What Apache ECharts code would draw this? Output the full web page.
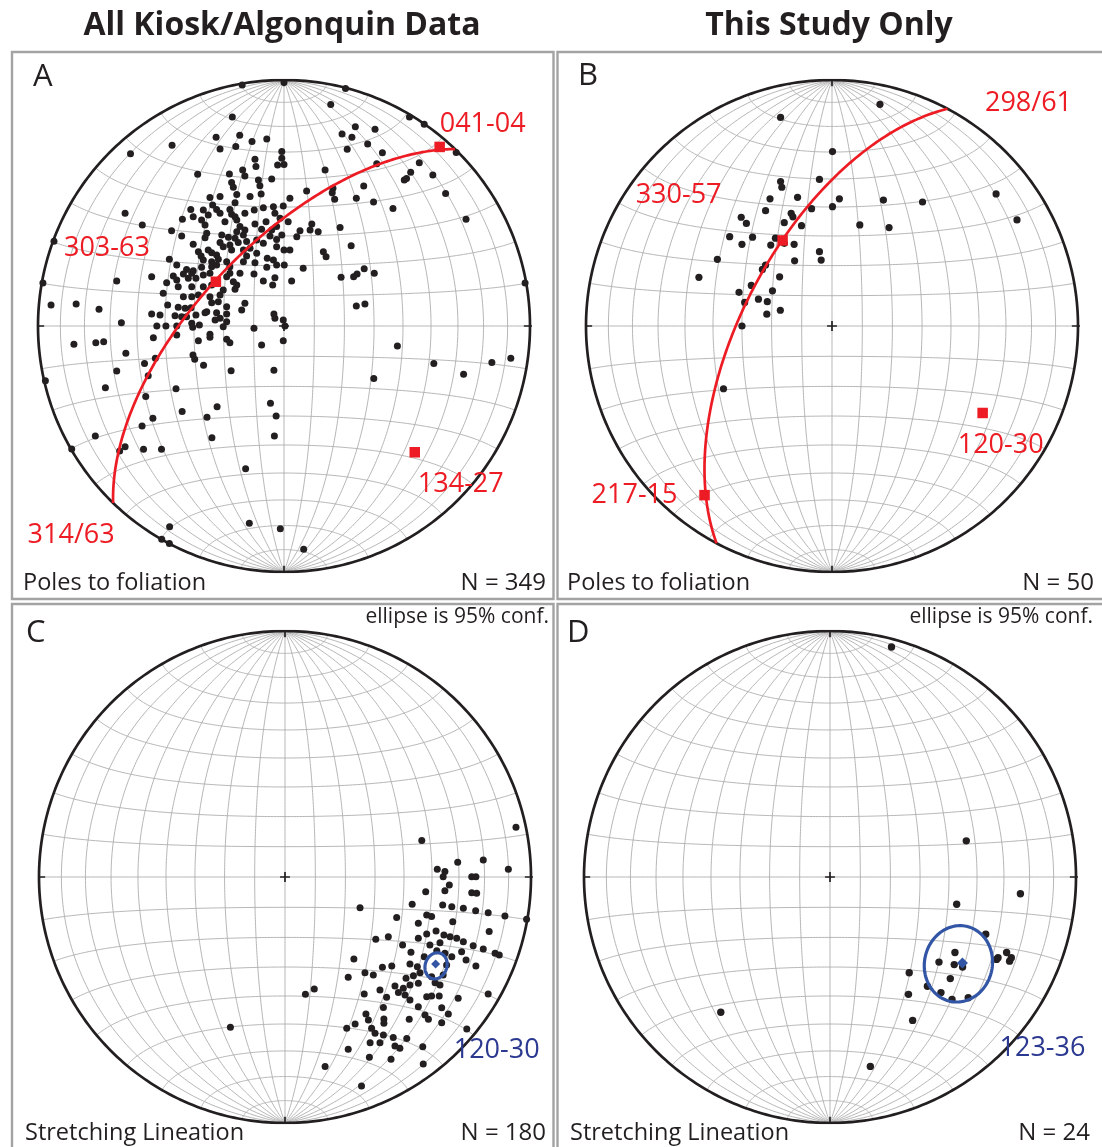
<!DOCTYPE html>
<html><head><meta charset="utf-8">
<script src="https://cdn.jsdelivr.net/npm/echarts@6/dist/echarts.min.js"></script>
<style>html,body{margin:0;padding:0;background:#fff}#c{width:1102px;height:1147px}</style>
</head><body><div id="c"></div>
<script>
// ---------- DATA (net coordinates: primitive radius = 100, x = east, y = north) ----------
const polesA = [
[-17,98],[0,99],[25,96.5],[51,85],[57,82],[70,70.5],[-93.5,34.5],[-98,17.5],[98,17.5],[19,90],[-21,85],[29,81],[37,80],[-27.6,76.7],[-18,77.5],[-13,75],[-7,76],[23.6,78],[27.6,76.7],[-45.5,73.5],[-26,72],[-19.6,73],[25.7,71.8],[34,74],[40,70.4],[-62.4,70],[37.7,66],[55,66.4],[51.5,62.5],[49.8,60],[48.9,59.3],[60.5,61.4],[19.9,56],[19.6,54.2],[32.4,56.9],[65.7,53.9],[20.6,51.5],[29.4,51.9],[36.4,50.4],[44.3,47.8],[74,43.4],[22.8,40],[27.3,32.6],[23.2,19.8],[28.3,20],[29.7,21.1],[32.6,23.3],[36.7,21.4],[29.4,8.1],[32.9,8.9],[-64.6,45.8],[-68,18.3],[-94.7,8.5],[-84.5,8.9],[-75.2,6.8],[-66.1,1.3],
[-0.9,70.9],[-11.8,67.8],[-0.9,68.2],[-11.4,64.8],[-2.6,65.4],[0,65.7],[-22.2,61.8],[-16.8,63.4],[16.7,63.4],[-35.1,61.7],[-15.9,61],[-10.4,59.3],[-5,59.8],[-21.3,58.3],[-9.8,57],[-20.6,56.4],[9.2,54.9],[2.4,51.9],[-19.2,53.5],[-9.3,53.7],[-13.8,52.6],[-30.1,52.2],[-26,52.6],[-19.9,50.1],[-29,49.2],[-27.4,47.4],[-22,47.4],[-12.1,47.2],[-8.4,48.1],[-4.3,48.5],[-0.3,48.8],[-37.9,47.4],[-32.8,47.2],[-26,45.8],[-21.3,45.4],[-19.9,44.4],[-15.9,45.8],[-3.7,45.8],[-36.9,44.4],[-30.8,45.1],[-33.5,43.1],[-41.3,43.4],[-24,42.4],[-19.2,43.1],[-11.8,41.5],[-7.3,42.4],[-1.6,43.8],[1.7,42.4],[11.3,41.5],[-57.6,41.1],[-45.7,38.7],[-32.1,41.1],[-17.9,40.4],[-19.2,38.3],[-15.9,39],[-9.1,39.3],[-5,39],[-3,40.4],[6.5,38.7],[10.6,39],[13.9,38.3],[-41.6,36.6],[-31.4,37.7],[-25.3,37],[-22.6,36.1],[-19.9,35.7],[-16.5,37],[-5.7,36.6],[-0.9,37],[5.2,36.3],[-32.1,35.9],[-36.9,33.2],[-26,33.9],[-22,32.9],[-18.6,33.9],[-15.2,34.3],[-11.1,35],[-3,35.2],[-8.4,33.6],[-34.8,30.2],[-30.8,30.9],[-24.7,32.2],[-21.3,30.9],[-16.5,30.9],[-13.8,31.6],[-3,32.2],[0,30.9],[2.4,30.9],[16,30.2],[17.1,28.2],[-33.7,28.5],[-29.4,29.8],[-27.4,28.9],[-15.2,28.5],[-11.1,29.6],[-6.8,27.5],[-4.3,26.8],[-46.6,27.1],[-43.6,24.8],[-32.8,26.8],[-29.4,26.1],[-26.7,27.1],[-23.3,26.1],[-16.5,26.1],[-11.8,25.7],[7.8,23.5],[0.1,24.8],[-39.6,23],[-36.9,22.5],[-33.5,23.9],[-29.4,24.1],[-27.4,24.8],[-22,24.1],[-7,23.9],[-3,24.8],[-45,20.3],[-40.9,21.1],[-37.5,21.4],[-32.8,20.7],[-30.1,21.4],[-22,21.4],[-17.9,21.4],[-12.2,21.1],[-53.8,20],[-47.7,17.6],[-43.6,18.7],[-38.9,19.4],[-35.8,19.4],[-23.3,20],[-20.6,18],[-3.7,19.6],[-8.4,18.3],[-4.6,16.7],[3.1,18.3],[-43,16],[-37.5,16],[-32.8,16],[-29.4,16.7],[-24.7,14.6],[-19.2,16.7],[-19.9,14.9],[-49.1,13.3],[-40.9,11.9],[-37.5,11.9],[-34.8,12.6],[-30.1,11.9],[-26,12.6],[-47.3,8.5],[-29.4,9.5],[-26.7,9.9],[-23.3,7.8],[-15.9,9.2],[-43,7.6],[-40.2,7.2],[-37.8,7.4],[-31.4,5.8],[-27.4,5.4],[-23.3,4.9],[-17.2,6.5],[-53.8,4.9],[-50.4,4.5],[-44.3,4.2],[-41.6,3.8],[-39.6,3.8],[-35.8,4.5],[-32.1,5.4],[-26,3.1],[-4.1,4.9],[-37.5,1.1],[-34.4,0.4],[-23.3,1.7],[-28,2.4],[-0.3,2.4],[-3.7,3.1],[-51.7,0],[-48,0],[-43.6,0],[-37.1,-0.5],[-24.7,-0.3],[-12.2,-0.9],[0.4,0],[-53.1,-4.8],[-43.6,-3.7],[-34.8,-6],[-30.1,-3.4],[-30.1,-4.6],[-23.3,-5.4],[-0.3,-6],[-9.1,-7.7],[-22,-6.8],
[-85.4,-7.4],[-76.5,-6.8],[-73.3,-6.4],[46.1,-8.1],[-64.3,-11.1],[-52.3,-13.1],[-37,-11.8],[-36.3,-13.5],[-56.7,-15.2],[-32.7,-16],[60.9,-15.2],[84.5,-14.8],[92.2,-13.1],[-68,-18.3],[-55.2,-20.2],[-21.5,-18.2],[-4.1,-18],[36.5,-21.3],[73,-19.6],[-97,-22.3],[-72.6,-25.1],[-43.9,-25.5],[-56.2,-28.7],[-5.5,-31.4],[-27.2,-32.8],[-41.4,-34.8],[-3.2,-36.6],[-31.3,-37.1],[-53.3,-37.5],[-57.7,-40.7],[-76.7,-44.7],[-29.3,-45.4],[-3.9,-44.7],[-86.3,-50],[-66.8,-50.8],[-64.6,-49.1],[-57.1,-50.1],[-49.8,-50.1],[-15.6,-58],[-14.1,-80.2],[-1.5,-82.4],[-46.5,-81.6],[-49.7,-86.7],[-46.6,-88.4],[8,-90.8]
];
const polesB = [
[19.5,90.1],[-20.9,84.8],[0.2,70.9],[-5.1,59.6],[-20.9,58.7],[-20.4,56.4],[-25.2,51.7],[-14,52.3],[3,51.7],[20.9,51.2],[36.8,50.4],[66.7,53.7],[75.2,43.1],[-27,46.9],[-8.3,47.7],[0.2,48.5],[-36.9,44.2],[-34.8,41.7],[-16.6,45.8],[-15.9,44.4],[-19.4,42],[-12.4,40.8],[11.3,41.1],[23.2,40],[-41.6,36.3],[-32.3,36.1],[-23,35.7],[-36.6,33.2],[-24.9,32.9],[-19.4,33.6],[-15.4,33.2],[-5.1,30.2],[-4.4,26.8],[-15.2,26.5],[-46.6,27.1],[-27,24.8],[-28.3,23],[-21.3,20],[-54.1,19.8],[-32.8,16.5],[-24.2,14.3],[-37.8,13.7],[-35.5,9.6],[-29.9,10.9],[-26.3,9.9],[-26.5,4.8],[-21,6.4],[-36.6,0],[-44.1,-25.5]
];
const lineationC = [
[93.9,20.2],[55.6,14.8],[70.2,6],[80.6,6.9],[61.9,3.1],[65,2.2],[64.3,0.1],[75.9,0.1],[77.6,0.1],[90.8,3.1],[66.8,-3.3],[65,-5.6],[57.2,-6],[75.9,-6.4],[77.9,-6.6],[30.5,-12.5],[51.7,-11.1],[64.1,-11.4],[67.8,-12.1],[72.5,-12.7],[77.5,-13.7],[82.6,-14.5],[89.4,-15.9],[98.2,-17.2],[57.6,-15.4],[59.6,-16.1],[45.4,-16.5],[54.2,-18.8],[68.2,-18.2],[83,-22.2],[61.4,-22],[57.6,-23.2],[64.6,-23.6],[67.1,-24.3],[69.8,-24.9],[72.5,-26.3],[36.9,-25.3],[42,-24.3],[54.2,-24.9],[47.8,-27.6],[58.9,-27.6],[63,-26.7],[76.5,-27.9],[80.6,-29.3],[85.4,-31],[87.1,-31.7],[51.2,-30.6],[56.6,-32.4],[61.7,-30],[65,-31],[67.8,-32.4],[71.8,-30.4],[73.6,-33.7],[77.6,-36.2],[28,-33.3],[39.6,-36.7],[43.4,-36.2],[50.8,-35.4],[53.8,-36.5],[65.7,-35.8],[32.5,-38.9],[35.9,-39.8],[25.7,-40.8],[49.2,-41.2],[52.2,-40.1],[54.9,-38.9],[59.6,-40.5],[64.3,-39.8],[44.7,-44.3],[38.6,-45.9],[48.1,-45.2],[50.8,-43.9],[54.2,-43.2],[61,-43],[63,-43.9],[46.1,-47],[48.8,-48],[50.8,-50],[41.3,-48.9],[32.2,-47.6],[57.6,-48.7],[59.6,-48.4],[62.7,-48.4],[70.4,-49.3],[82.6,-47.6],[54.2,-52.7],[40,-53],[63.7,-53.1],[32.9,-55.7],[33.9,-58.1],[56.9,-56.1],[58.3,-57.8],[66.4,-55.7],[40.2,-57.7],[40.2,-59.5],[50.5,-57.8],[63.7,-59.2],[25.1,-61.5],[28.5,-59.8],[35.2,-61.5],[36.6,-63.5],[73.9,-61.8],[40,-64.2],[44,-65.2],[49.5,-65.6],[34.6,-67.4],[38.6,-67.4],[44.7,-68.7],[46.7,-69.6],[56,-69],[25.7,-70],[34.3,-73.3],[43.1,-74.1],[8.3,-47.7],[11.9,-45.5],[-22.2,-61.1],[16.3,-77],[31.1,-85],[56.2,-76]
];
const lineationD = [
[25,93.5],[55.4,14.7],[77.4,-6.8],[51.5,-11.1],[63.3,-23.3],[50.8,-30.7],[44.3,-34.6],[50.5,-35.6],[53.9,-36.6],[48.9,-41.3],[32.2,-38.9],[39.6,-44.4],[45.1,-47],[49.6,-49.8],[56.2,-49.1],[31.9,-47.7],[33.6,-58.3],[68.3,-32.8],[71.8,-30.7],[73.7,-32.8],[73,-34.2],[67.7,-33.5],[-44.4,-55],[16.4,-77]
];
// eigenvectors (trend, plunge) and their labels
const eigenA = [[41,4],[303,63],[134,27]];
const eigenALabels = ['041-04','303-63','134-27'];
const eigenB = [[330,57],[217,15],[120,30]];
const eigenBLabels = ['330-57','217-15','120-30'];
// best-fit planes (dip direction, dip)
const planeA = [314,63], planeALabel = '314/63';
const planeB = [298,61], planeBLabel = '298/61';
// mean lineations (trend, plunge) and 95% ellipses [cx, cy, semi-major, semi-minor, rotation deg]
const meanC = [120,30], meanCLabel = '120-30', ellipseC = [61.4,-36.1,5.4,4.4,71];
const meanD = [123,36], meanDLabel = '123-36', ellipseD = [52.2,-35.3,15.6,13.8,78];
const titles = ['All Kiosk/Algonquin Data','This Study Only'];
const panelLetters = ['A','B','C','D'];
const captions = ['Poles to foliation','Poles to foliation','Stretching Lineation','Stretching Lineation'];
const counts = ['N = 349','N = 50','N = 180','N = 24'];
const confNote = 'ellipse is 95% conf.';

// ---------- GEOMETRY HELPERS ----------
const R = 100, D2R = Math.PI/180;
function vproj(e,n,d){ const f = R/Math.sqrt(1+d); return [e*f, n*f]; }
function proj(trend, plunge){ const r = R*Math.SQRT2*Math.sin((90-plunge)/2*D2R); return [r*Math.sin(trend*D2R), r*Math.cos(trend*D2R)]; }
function netCurves(){
  const out = [];
  for (let k=1;k<=9;k++){
    const dl = k*10*D2R;
    for (const s of [1,-1]){
      if (k===9 && s<0) continue;
      const pts=[]; for(let i=0;i<=180;i++){ const t=i*D2R; pts.push(vproj(Math.sin(t)*s*Math.cos(dl), Math.cos(t), Math.sin(t)*Math.sin(dl))); }
      out.push(pts);
    }
  }
  for (let k=1;k<=9;k++){
    const a = k*10*D2R;
    for (const s of [1,-1]){
      if (k===9 && s<0) continue;
      const pts=[]; for(let i=0;i<=180;i++){ const p=i*D2R; pts.push(vproj(Math.sin(a)*Math.cos(p), s*Math.cos(a), Math.sin(a)*Math.sin(p))); }
      out.push(pts);
    }
  }
  return out;
}
function primitive(){ const p=[]; for(let i=0;i<=360;i++) p.push([R*Math.cos(i*D2R), R*Math.sin(i*D2R)]); return p; }
function planeCurve(dd, dip){
  const sa=(dd-90)*D2R, s=[Math.sin(sa),Math.cos(sa),0];
  const dv=[Math.sin(dd*D2R)*Math.cos(dip*D2R), Math.cos(dd*D2R)*Math.cos(dip*D2R), Math.sin(dip*D2R)];
  const pts=[]; for(let i=0;i<=180;i++){ const t=i*D2R, c=Math.cos(t), sn=Math.sin(t); pts.push(vproj(c*s[0]+sn*dv[0], c*s[1]+sn*dv[1], c*s[2]+sn*dv[2])); }
  return pts;
}
function ellipse(el){ const [cx,cy,a,b,rot]=el, r=rot*D2R, p=[]; for(let i=0;i<=120;i++){ const t=i*3*D2R; p.push([cx+a*Math.cos(t)*Math.cos(r)-b*Math.sin(t)*Math.sin(r), cy+a*Math.cos(t)*Math.sin(r)+b*Math.sin(t)*Math.cos(r)]); } return p; }

// ---------- LAYOUT / STYLE ----------
const centers = [[284,326],[832,326],[285,877],[830,877]], RPX = 246;
const INK = '#231f20', RED = '#ed1c24', BLUE = '#3355a5', NAVY = '#2b3990', GRID = '#b2b2b2';
const FONT = '"Open Sans", "Noto Sans", sans-serif';
const grids=[], xAxes=[], yAxes=[], series=[];
const curves = netCurves(), circ = primitive();
const tickSegs = [[[0,97.5],[0,103.5]],[[0,-97.5],[0,-103.5]],[[97.5,0],[103.5,0]],[[-97.5,0],[-103.5,0]],[[-2,0],[2,0]],[[0,-2],[0,2]]];
const pointSets = [polesA, polesB, lineationC, lineationD];
const dotSizes = [7, 7.2, 7, 7.4];
function base(i){ return {coordinateSystem:'cartesian2d', xAxisIndex:i, yAxisIndex:i, silent:true, animation:false}; }
centers.forEach((c,i)=>{
  grids.push({left:c[0]-RPX, top:c[1]-RPX, width:2*RPX, height:2*RPX, show:false});
  xAxes.push({type:'value', gridIndex:i, min:-R, max:R, show:false});
  yAxes.push({type:'value', gridIndex:i, min:-R, max:R, show:false});
  series.push(Object.assign({type:'lines', polyline:true, z:1, lineStyle:{color:GRID, width:0.95, opacity:1}, data:curves.map(p=>({coords:p}))}, base(i)));
  series.push(Object.assign({type:'lines', polyline:true, z:2, lineStyle:{color:INK, width:2.7, opacity:1}, data:[{coords:circ}]}, base(i)));
  series.push(Object.assign({type:'lines', polyline:true, z:2, lineStyle:{color:INK, width:1.7, opacity:1}, data:tickSegs.map(p=>({coords:p}))}, base(i)));
  series.push(Object.assign({type:'scatter', z:3, symbol:'circle', symbolSize:dotSizes[i], itemStyle:{color:INK, opacity:1}, data:pointSets[i]}, base(i)));
});
const labelStyle = (color)=>({show:true, position:'inside', color:color, fontSize:27, fontFamily:FONT, opacity:1});
// Panel A: plane, eigenvectors
const gA = planeCurve(planeA[0], planeA[1]);
series.push(Object.assign({type:'lines', polyline:true, z:4, lineStyle:{color:RED, width:2.7, opacity:1}, data:[{coords:gA}]}, base(0)));
const offA = [[43,-23],[-109,-33],[46,32]];
series.push(Object.assign({type:'scatter', z:5, symbol:'rect', symbolSize:10.5, itemStyle:{color:RED, opacity:1}, label:labelStyle(RED),
  data: eigenA.map((e,k)=>({value:proj(e[0],e[1]), label:{formatter:eigenALabels[k], offset:offA[k]}}))}, base(0)));
series.push(Object.assign({type:'scatter', z:5, symbolSize:1, itemStyle:{color:'rgba(0,0,0,0)'}, label:labelStyle(RED),
  data:[{value:gA[0], label:{formatter:planeALabel, offset:[-42,32]}}]}, base(0)));
// Panel B
const gB = planeCurve(planeB[0], planeB[1]);
series.push(Object.assign({type:'lines', polyline:true, z:4, lineStyle:{color:RED, width:2.7, opacity:1}, data:[{coords:gB}]}, base(1)));
const offB = [[-104,-45],[-70,0],[18,32]];
series.push(Object.assign({type:'scatter', z:5, symbol:'rect', symbolSize:10.5, itemStyle:{color:RED, opacity:1}, label:labelStyle(RED),
  data: eigenB.map((e,k)=>({value:proj(e[0],e[1]), label:{formatter:eigenBLabels[k], offset:offB[k]}}))}, base(1)));
series.push(Object.assign({type:'scatter', z:5, symbolSize:1, itemStyle:{color:'rgba(0,0,0,0)'}, label:labelStyle(RED),
  data:[{value:gB[gB.length-1], label:{formatter:planeBLabel, offset:[81,-5]}}]}, base(1)));
// Panels C, D: ellipses and means
[[2,meanC,meanCLabel,ellipseC,9,[61,86]],[3,meanD,meanDLabel,ellipseD,11,[80,85]]].forEach(([i,m,lab,el,ds,off])=>{
  series.push(Object.assign({type:'lines', polyline:true, z:4, lineStyle:{color:BLUE, width:3.2, opacity:1}, data:[{coords:ellipse(el)}]}, base(i)));
  series.push(Object.assign({type:'scatter', z:5, symbol:'diamond', symbolSize:ds, itemStyle:{color:BLUE, opacity:1}, label:labelStyle(NAVY),
    data:[{value:proj(m[0],m[1]), label:{formatter:lab, offset:off}}]}, base(i)));
});

// ---------- TEXT & FRAMES ----------
const txt = (x,y,text,font,align,fill)=>({type:'text', x:x, y:y, silent:true, z:10,
  style:{text:text, font:font, fill:fill||INK, align:align, textAlign:align, verticalAlign:'middle', textVerticalAlign:'middle'}});
const frame = (x,y,w,h)=>({type:'rect', silent:true, z:0, shape:{x:x,y:y,width:w,height:h}, style:{fill:'none', stroke:'#a3a3a3', lineWidth:2.4}});
const graphic = [
  frame(12,52,541.5,547), frame(557.5,52,548,547), frame(12,604,541.5,548), frame(557.5,604,548,548),
  txt(282,26,titles[0],'bold 32px '+FONT,'center'), txt(829,26,titles[1],'bold 32px '+FONT,'center'),
  txt(33,77,panelLetters[0],'31px '+FONT,'left'), txt(578,76,panelLetters[1],'31px '+FONT,'left'),
  txt(26,633,panelLetters[2],'31px '+FONT,'left'), txt(567,633,panelLetters[3],'31px '+FONT,'left'),
  txt(23,583,captions[0],'23.5px '+FONT,'left'), txt(567,583,captions[1],'23.5px '+FONT,'left'),
  txt(25,1133,captions[2],'23.5px '+FONT,'left'), txt(570,1133,captions[3],'23.5px '+FONT,'left'),
  txt(546,583,counts[0],'24px '+FONT,'right'), txt(1094,583,counts[1],'24px '+FONT,'right'),
  txt(546,1133,counts[2],'24px '+FONT,'right'), txt(1090,1133,counts[3],'24px '+FONT,'right'),
  txt(549,617,confNote,'21px '+FONT,'right'), txt(1093,617,confNote,'21px '+FONT,'right')
];

const chart = echarts.init(document.getElementById('c'), null, {renderer:'canvas'});
chart.setOption({animation:false, backgroundColor:'#ffffff', grid:grids, xAxis:xAxes, yAxis:yAxes, series:series, graphic:graphic});
</script></body></html>
